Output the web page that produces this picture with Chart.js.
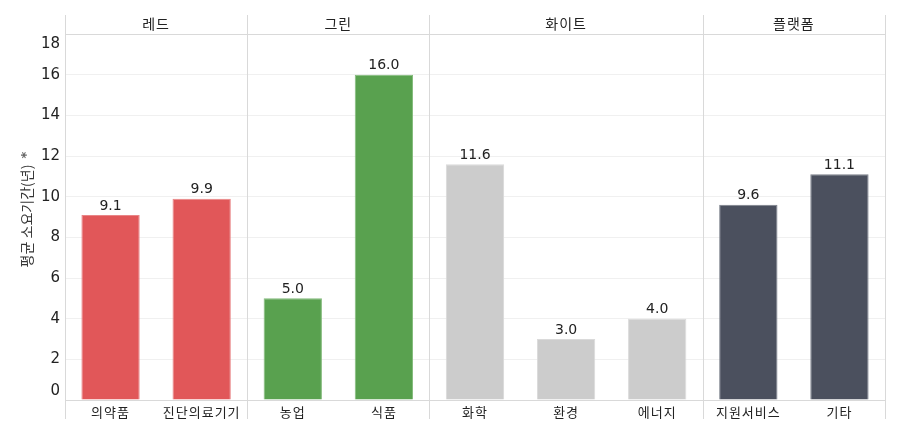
<!DOCTYPE html>
<html>
<head>
<meta charset="utf-8">
<script src="https://cdn.jsdelivr.net/npm/chart.js@4.4.1/dist/chart.umd.min.js"></script>
<style>
  html, body { margin: 0; padding: 0; background: #fff; }
  #wrap { width: 903px; height: 433px; }
</style>
</head>
<body>
<div id="wrap"><canvas id="c"></canvas></div>
<script>
// categories and values
const categories = ["의약품", "진단의료기기", "농업", "식품", "화학", "환경", "에너지", "지원서비스", "기타"];
const values = [9.1, 9.9, 5.0, 16.0, 11.6, 3.0, 4.0, 9.6, 11.1];
const groups = ["레드", "레드", "그린", "그린", "화이트", "화이트", "화이트", "플랫폼", "플랫폼"];
const groupNames = ["레드", "그린", "화이트", "플랫폼"];
const groupColors = { "레드": "#E15759", "그린": "#59A14F", "화이트": "#CCCCCC", "플랫폼": "#4B505E" };
const groupBorders = { "레드": "#E98587", "그린": "#82BA7A", "화이트": "#DADADA", "플랫폼": "#7A7F89" };
const yTicks = [0, 2, 4, 6, 8, 10, 12, 14, 16, 18];
const yTitle = "평균 소요기간(년)";

const KR = '"Noto Sans CJK KR", "Noto Sans", sans-serif';
const NUM = '"DejaVu Sans", Verdana, sans-serif';

// draws the panel frame, headers, tick labels and bar values
const decor = {
  id: "decor",
  beforeDatasetsDraw(chart) {
    const { ctx, chartArea: a, scales: { x } } = chart;
    ctx.save();
    ctx.strokeStyle = "#D9D9D9";
    ctx.lineWidth = 1;
    // vertical panel separators, incl. left and right borders
    const edges = [a.left];
    for (let i = 1; i < groups.length; i++) {
      if (groups[i] !== groups[i - 1]) edges.push((x.getPixelForValue(i - 1) + x.getPixelForValue(i)) / 2);
    }
    edges.push(a.right);
    edges.forEach(px => {
      const xx = Math.round(px) + 0.5;
      ctx.beginPath(); ctx.moveTo(xx, 15); ctx.lineTo(xx, 419); ctx.stroke();
    });
    // header line and x axis line
    ctx.beginPath(); ctx.moveTo(a.left, Math.round(a.top) + 0.5); ctx.lineTo(a.right, Math.round(a.top) + 0.5); ctx.stroke();
    ctx.beginPath(); ctx.moveTo(a.left, Math.round(a.bottom) + 0.5); ctx.lineTo(a.right, Math.round(a.bottom) + 0.5); ctx.stroke();
    // headers
    ctx.fillStyle = "#222";
    ctx.font = "14px " + KR;
    ctx.letterSpacing = "1px";
    ctx.textAlign = "center";
    ctx.textBaseline = "middle";
    for (let g = 0; g < groupNames.length; g++) {
      ctx.fillText(groupNames[g], (edges[g] + edges[g + 1]) / 2, 24);
    }
    ctx.restore();
  },
  afterDatasetsDraw(chart) {
    const { ctx, chartArea: a, scales: { x, y } } = chart;
    ctx.save();
    // y tick labels, kept inside the plot band like the original
    ctx.fillStyle = "#222";
    ctx.font = "15px " + NUM;
    ctx.textAlign = "right";
    ctx.textBaseline = "middle";
    yTicks.forEach(v => {
      let py = y.getPixelForValue(v);
      py = Math.min(Math.max(py, a.top + 10), a.bottom - 9);
      ctx.fillText(String(v), 60, py);
    });
    // x category labels
    ctx.font = "13px " + KR;
    ctx.letterSpacing = "1px";
    ctx.textAlign = "center";
    categories.forEach((c, i) => ctx.fillText(c, x.getPixelForValue(i), 412));
    ctx.letterSpacing = "0px";
    // value labels
    ctx.font = "14px " + NUM;
    ctx.textBaseline = "bottom";
    const meta = chart.getDatasetMeta(0);
    meta.data.forEach((bar, i) => {
      ctx.fillText(values[i].toFixed(1), bar.x, bar.y - 2);
    });
    // y axis title
    ctx.translate(27, 216);
    ctx.rotate(-Math.PI / 2);
    ctx.font = "14px " + KR;
    ctx.textBaseline = "middle";
    ctx.fillStyle = "#333";
    ctx.fillText(yTitle, 0, 0);
    ctx.font = "bold 13px " + NUM;
    ctx.fillStyle = "#666";
    ctx.fillText("*", 61, 0);
    ctx.restore();
  }
};

new Chart(document.getElementById("c"), {
  type: "bar",
  data: {
    labels: categories,
    datasets: [{
      data: values,
      backgroundColor: groups.map(g => groupColors[g]),
      borderColor: groups.map(g => groupBorders[g]),
      borderWidth: 1,
      barPercentage: 0.64,
      categoryPercentage: 1
    }]
  },
  options: {
    responsive: true,
    maintainAspectRatio: false,
    animation: false,
    layout: { padding: { left: 65, right: 18, top: 34, bottom: 25 } },
    plugins: { legend: { display: false }, tooltip: { enabled: false } },
    scales: {
      x: {
        ticks: { display: false },
        grid: { display: false },
        border: { display: false }
      },
      y: {
        min: 0, max: 18,
        ticks: { display: false, stepSize: 2 },
        grid: {
          color: ctx => (ctx.tick.value === 0 || ctx.tick.value === 18) ? "rgba(0,0,0,0)" : "#F0F0F0",
          drawTicks: false
        },
        border: { display: false }
      }
    }
  },
  plugins: [decor]
});
</script>
</body>
</html>
